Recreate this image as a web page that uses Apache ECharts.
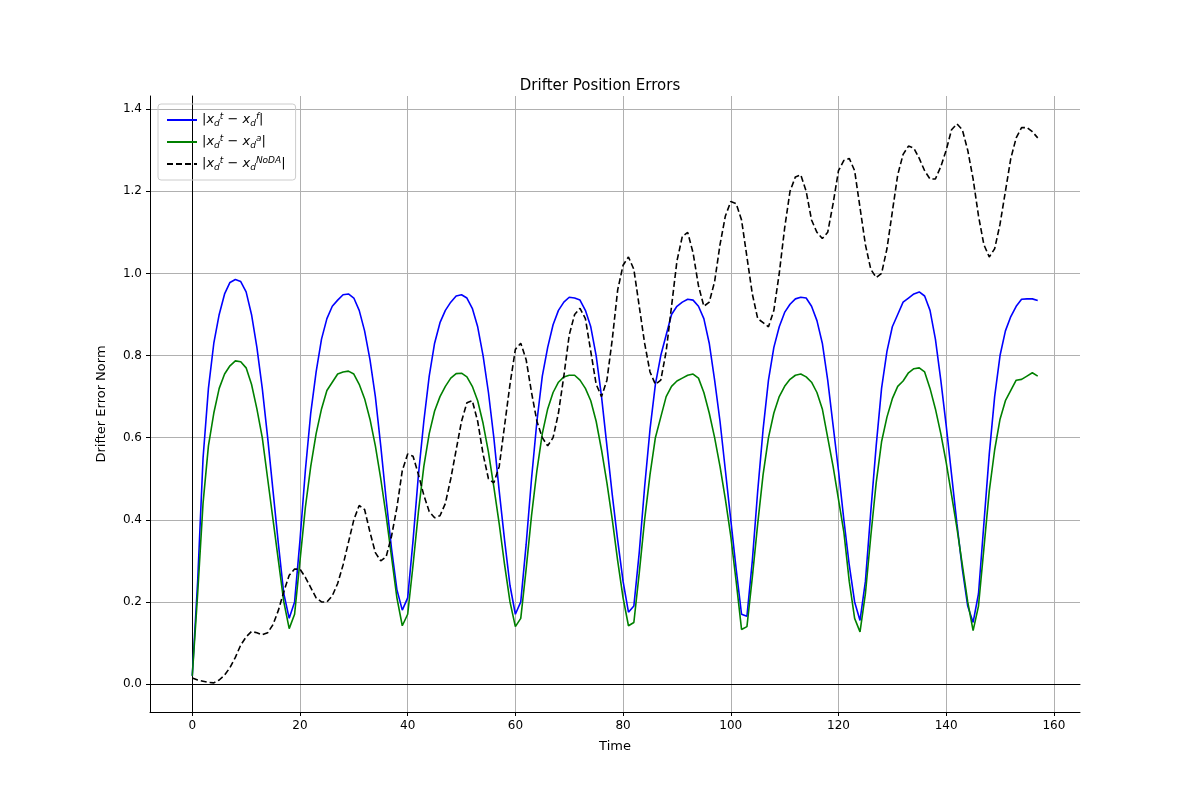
<!DOCTYPE html>
<html lang="en">
<head>
<meta charset="UTF-8">
<title>Drifter Position Errors</title>
<script src="https://cdn.jsdelivr.net/npm/echarts@6/dist/echarts.min.js"></script>
<style>html,body{margin:0;background:#fff}#chart{width:1200px;height:800px}</style>
</head>
<body>
<div id="chart"></div>
<script>
// forecast error |x_d^t - x_d^f|
var forecastErr = [0.02,0.25,0.55,0.72,0.83,0.9,0.95,0.978,0.985,0.98,0.955,0.9,0.82,0.72,0.6,0.47,0.34,0.22,0.16,0.2,
0.35,0.52,0.66,0.76,0.84,0.89,0.92,0.935,0.948,0.95,0.94,0.91,0.86,0.79,0.7,0.58,0.45,0.33,0.23,0.18,
0.21,0.35,0.51,0.64,0.75,0.83,0.88,0.91,0.93,0.945,0.948,0.94,0.915,0.87,0.8,0.71,0.6,0.47,0.35,0.24,
0.17,0.2,0.34,0.5,0.64,0.75,0.82,0.875,0.91,0.93,0.942,0.94,0.935,0.91,0.87,0.8,0.7,0.58,0.46,0.35,
0.25,0.175,0.19,0.32,0.48,0.62,0.73,0.8,0.85,0.9,0.92,0.93,0.937,0.935,0.92,0.89,0.83,0.74,0.64,0.52,
0.4,0.28,0.17,0.165,0.3,0.47,0.62,0.74,0.82,0.87,0.905,0.925,0.938,0.942,0.94,0.92,0.885,0.83,0.74,0.63,
0.52,0.4,0.29,0.2,0.155,0.25,0.42,0.58,0.72,0.81,0.87,0.9,0.93,0.94,0.95,0.955,0.945,0.91,0.84,0.74,
0.63,0.51,0.39,0.28,0.19,0.15,0.22,0.39,0.56,0.7,0.8,0.86,0.895,0.92,0.937,0.938,0.938,0.934];
// analysis error |x_d^t - x_d^a|
var analysisErr = [0.02,0.22,0.44,0.58,0.66,0.72,0.755,0.775,0.787,0.785,0.77,0.73,0.67,0.6,0.5,0.4,0.3,0.2,0.135,0.17,
0.3,0.43,0.53,0.61,0.67,0.715,0.735,0.755,0.76,0.762,0.755,0.73,0.695,0.645,0.58,0.5,0.41,0.31,0.21,0.142,
0.17,0.29,0.42,0.53,0.61,0.665,0.7,0.725,0.745,0.756,0.757,0.748,0.725,0.69,0.635,0.565,0.48,0.39,0.29,0.2,
0.14,0.16,0.28,0.41,0.52,0.61,0.67,0.71,0.735,0.748,0.752,0.752,0.74,0.72,0.69,0.64,0.57,0.49,0.4,0.3,
0.21,0.142,0.15,0.27,0.4,0.51,0.6,0.65,0.7,0.725,0.738,0.745,0.752,0.755,0.745,0.71,0.66,0.6,0.53,0.45,
0.36,0.25,0.133,0.14,0.26,0.39,0.51,0.6,0.66,0.7,0.725,0.742,0.752,0.755,0.748,0.735,0.71,0.67,0.6,0.53,
0.45,0.37,0.25,0.16,0.127,0.22,0.36,0.49,0.59,0.65,0.695,0.725,0.738,0.758,0.768,0.77,0.76,0.72,0.67,0.61,
0.54,0.46,0.38,0.29,0.2,0.13,0.19,0.33,0.47,0.57,0.645,0.69,0.715,0.74,0.742,0.75,0.758,0.75];
// free run error |x_d^t - x_d^NoDA|
var noDaErr = [0.015,0.01,0.007,0.004,0.003,0.01,0.022,0.04,0.065,0.095,0.115,0.128,0.125,0.12,0.125,0.145,0.18,0.225,0.265,0.28,
0.28,0.26,0.235,0.21,0.2,0.2,0.215,0.245,0.29,0.345,0.4,0.435,0.425,0.37,0.32,0.3,0.31,0.36,0.43,0.52,
0.56,0.555,0.51,0.46,0.42,0.405,0.41,0.44,0.5,0.57,0.64,0.685,0.69,0.64,0.56,0.5,0.49,0.53,0.63,0.73,
0.815,0.83,0.79,0.71,0.64,0.6,0.58,0.6,0.66,0.75,0.85,0.9,0.915,0.89,0.81,0.73,0.7,0.74,0.84,0.96,
1.02,1.04,1.01,0.92,0.83,0.76,0.73,0.74,0.81,0.92,1.03,1.09,1.1,1.05,0.97,0.92,0.93,0.98,1.07,1.14,
1.175,1.17,1.13,1.04,0.95,0.89,0.88,0.87,0.91,1.0,1.11,1.2,1.235,1.24,1.2,1.13,1.1,1.085,1.1,1.17,
1.25,1.275,1.28,1.25,1.16,1.07,1.01,0.99,1.0,1.06,1.15,1.24,1.29,1.31,1.305,1.28,1.25,1.23,1.23,1.26,
1.3,1.35,1.364,1.35,1.3,1.23,1.14,1.07,1.04,1.06,1.12,1.2,1.28,1.33,1.355,1.355,1.345,1.33];
var xTicks = [0,20,40,60,80,100,120,140,160];
var yTicks = [0,0.2,0.4,0.6,0.8,1.0,1.2,1.4];

function pairs(arr) {
    var out = [];
    for (var i = 0; i < arr.length; i++) out.push([i, arr[i]]);
    return out;
}

var myChart = echarts.init(document.getElementById('chart'));
var rich = {
    sub: { fontSize: 9, fontStyle: 'italic', padding: [7, 0, 0, 0], color: '#000' },
    sup: { fontSize: 9, fontStyle: 'italic', padding: [0, 0, 7, 0], color: '#000' },
    m: { fontSize: 13, color: '#000' },
    x: { fontSize: 13, fontStyle: 'italic', color: '#000' }
};
var names = ['f', 'a', 'NoDA'];
var frameAxis = {
    show: true, axisLine: { show: true, lineStyle: { color: '#000' } },
    axisTick: { show: false }, axisLabel: { show: false }, splitLine: { show: false }
};
var option = {
    animation: false,
    textStyle: { fontFamily: 'DejaVu Sans' },
    title: {
        text: 'Drifter Position Errors', left: 'center', top: 74,
        textStyle: { fontSize: 15, fontWeight: 'normal', color: '#000' }
    },
    legend: {
        orient: 'vertical', left: 158, top: 104,
        borderColor: '#ccc', borderWidth: 1, borderRadius: 3,
        padding: [8, 10, 8, 8], itemGap: 6, itemWidth: 30, itemHeight: 14,
        itemStyle: { opacity: 0 },
        data: names,
        formatter: function (n) {
            return '{m||}{x|x}{sub|d}{sup|t}{m| − }{x|x}{sub|d}{sup|' + n + '}{m||}';
        },
        textStyle: { rich: rich }
    },
    grid: { left: 150, right: 120, top: 96, bottom: 88 },
    xAxis: [{
        type: 'value', min: -7.85, max: 164.85,
        name: 'Time', nameLocation: 'middle', nameGap: 28,
        nameTextStyle: { fontSize: 13, color: '#000' },
        axisLine: { onZero: false, lineStyle: { color: '#000' } },
        axisTick: { customValues: xTicks, length: 4, lineStyle: { color: '#000' } },
        axisLabel: { customValues: xTicks, color: '#000', fontSize: 12 },
        splitLine: { show: true, lineStyle: { color: '#b0b0b0' } }
    }, Object.assign({ type: 'value', position: 'top', min: -7.85, max: 164.85 }, frameAxis)],
    yAxis: [{
        type: 'value', min: -0.068, max: 1.432,
        name: 'Drifter Error Norm', nameLocation: 'middle', nameGap: 42,
        nameTextStyle: { fontSize: 13, color: '#000' },
        axisLine: { show: true, onZero: false, lineStyle: { color: '#000' } },
        axisTick: { show: true, customValues: yTicks, length: 4, lineStyle: { color: '#000' } },
        axisLabel: { customValues: yTicks, color: '#000', fontSize: 12,
            formatter: function (v) { return v.toFixed(1); } },
        splitLine: { show: true, lineStyle: { color: '#b0b0b0' } }
    }, Object.assign({ type: 'value', position: 'right', min: -0.068, max: 1.432 }, frameAxis)],
    series: [
        { name: 'f', type: 'line', symbol: 'none', data: pairs(forecastErr),
          lineStyle: { color: '#0000ff', width: 1.6 }, itemStyle: { color: '#0000ff' } },
        { name: 'a', type: 'line', symbol: 'none', data: pairs(analysisErr),
          lineStyle: { color: '#008000', width: 1.6 }, itemStyle: { color: '#008000' } },
        { name: 'NoDA', type: 'line', symbol: 'none', data: pairs(noDaErr),
          lineStyle: { color: '#000', width: 1.6, type: [6, 3] }, itemStyle: { color: '#000' } }
    ]
};
myChart.setOption(option);
</script>
</body>
</html>
